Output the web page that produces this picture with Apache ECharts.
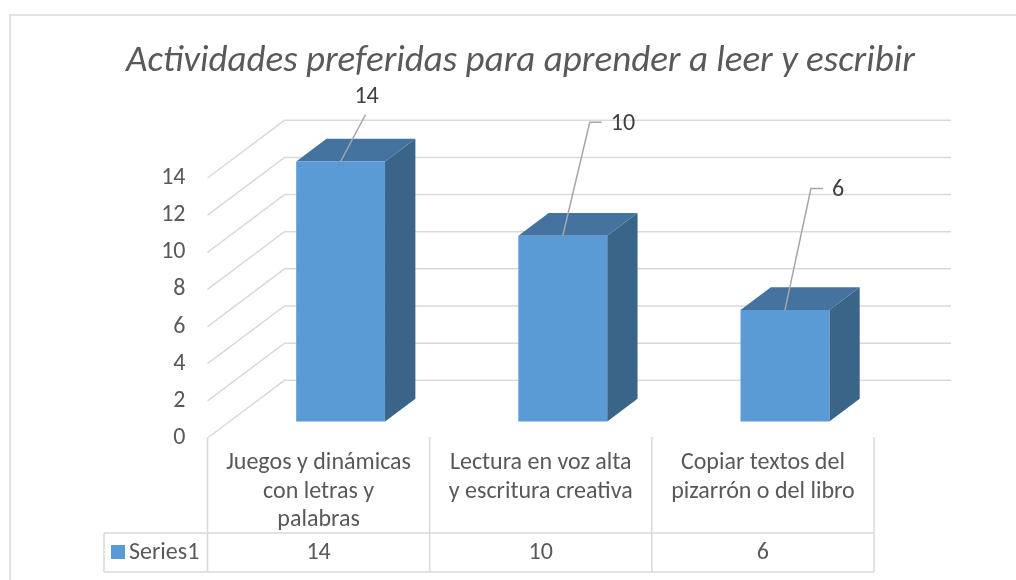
<!DOCTYPE html>
<html>
<head>
<meta charset="utf-8">
<script src="https://cdn.jsdelivr.net/npm/echarts@6/dist/echarts.min.js"></script>
<style>
  html, body { margin: 0; padding: 0; background: #fff; }
  #main { width: 1016px; height: 580px; }
</style>
</head>
<body>
<div id="main"></div>
<script>
// datos
const categories = [
  'Juegos y dinámicas\ncon letras y\npalabras',
  'Lectura en voz alta\ny escritura creativa',
  'Copiar textos del\npizarrón o del libro'
];
const values = [14, 10, 6];
const yTicks = [0, 2, 4, 6, 8, 10, 12, 14];
const seriesName = 'Series1';

const FONT = 'Carlito, "Open Sans", Lato, sans-serif';
const TEXT = '#595959';
const GRID = '#d9d9d9';
const FS = 24;

// profundidad de la pared del fondo y de las barras (px)
const WALL = [77, -57.7];
const BAR_FRONT = 0.286;   // fraccion de profundidad de la cara frontal
const BAR_BACK = 0.68;     // fraccion de la cara trasera
const BAR_W = 0.4;         // ancho relativo a la categoria
// posicion de las etiquetas respecto al borde superior de la barra
const labelOffsets = [[26, -64], [59, -112], [58, -120]];

const chart = echarts.init(document.getElementById('main'));

const option = {
  animation: false,
  title: {
    text: 'Actividades preferidas para aprender a leer y escribir',
    left: 121,
    top: 38,
    textStyle: { fontFamily: FONT, fontStyle: 'italic', fontWeight: 'normal', fontSize: 37, color: TEXT }
  },
  grid: { left: 207.5, right: 142, top: 178, bottom: 142 },
  xAxis: {
    type: 'category',
    data: categories,
    axisLine: { show: false },
    axisTick: { show: false },
    axisLabel: { margin: 11, fontFamily: FONT, fontSize: FS, color: TEXT, lineHeight: 28.5, interval: 0 }
  },
  yAxis: {
    type: 'value',
    min: 0,
    max: 14,
    interval: 2,
    axisLine: { show: false },
    axisTick: { show: false },
    splitLine: { show: false },
    axisLabel: { margin: 22, fontFamily: FONT, fontSize: FS, color: TEXT }
  },
  series: [
    // lineas de la cuadricula en 3D (pared izquierda + fondo)
    {
      type: 'custom',
      z: 1,
      silent: true,
      data: yTicks.map(v => [0, v]),
      renderItem: function (params, api) {
        const cs = params.coordSys;
        const y = api.coord([0, api.value(1)])[1];
        const x0 = cs.x;
        const x1 = cs.x + cs.width;
        return {
          type: 'polyline',
          shape: { points: [[x0, y], [x0 + WALL[0], y + WALL[1]], [x1 + WALL[0], y + WALL[1]]] },
          style: { stroke: GRID, lineWidth: 1.5, fill: null }
        };
      }
    },
    // barras 3D
    {
      type: 'custom',
      name: seriesName,
      z: 2,
      data: values.map((v, i) => [i, v]),
      renderItem: function (params, api) {
        const i = api.value(0);
        const top = api.coord([i, api.value(1)]);
        const base = api.coord([i, 0]);
        const band = api.size([1, 0])[0];
        const w = band * BAR_W;
        const fx = WALL[0] * BAR_FRONT, fy = WALL[1] * BAR_FRONT;
        const dx = WALL[0] * (BAR_BACK - BAR_FRONT), dy = WALL[1] * (BAR_BACK - BAR_FRONT);
        const xl = top[0] + fx - w / 2, xr = top[0] + fx + w / 2;
        const yt = top[1] + fy, yb = base[1] + fy;
        return {
          type: 'group',
          children: [
            {
              type: 'polygon',
              shape: { points: [[xr, yt], [xr + dx, yt + dy], [xr + dx, yb + dy], [xr, yb]] },
              style: { fill: '#3a6488' }
            },
            {
              type: 'polygon',
              shape: { points: [[xl, yt], [xr, yt], [xr + dx, yt + dy], [xl + dx, yt + dy]] },
              style: { fill: '#44739f' }
            },
            {
              type: 'rect',
              shape: { x: xl, y: yt, width: w, height: yb - yt },
              style: { fill: '#5b9bd5' }
            }
          ]
        };
      }
    },
    // etiquetas de datos con lineas guia
    {
      type: 'custom',
      z: 3,
      silent: true,
      data: values.map((v, i) => [i, v]),
      renderItem: function (params, api) {
        const i = api.value(0);
        const top = api.coord([i, api.value(1)]);
        const px = top[0] + WALL[0] * BAR_FRONT;
        const py = top[1] + WALL[1] * BAR_FRONT;
        const off = labelOffsets[i];
        const tx = px + off[0], ty = py + off[1];
        let pts, text;
        if (i === 0) {
          pts = [[px, py], [tx - 1, ty + 17]];
          text = { x: tx, y: ty, align: 'center' };
        } else {
          pts = [[px, py], [tx - 32, ty - 1.5], [tx - 20, ty - 1.5]];
          text = { x: tx - 11, y: ty, align: 'left' };
        }
        return {
          type: 'group',
          children: [
            { type: 'polyline', shape: { points: pts }, style: { stroke: '#a6a6a6', lineWidth: 1.5, fill: null } },
            {
              type: 'text',
              style: {
                x: text.x, y: text.y, text: String(api.value(1)),
                align: text.align, verticalAlign: 'middle',
                font: FS + 'px ' + FONT, fill: '#404040'
              }
            }
          ]
        };
      }
    },
    // tabla de datos
    {
      type: 'custom',
      z: 3,
      silent: true,
      data: values.map((v, i) => [i, v]),
      renderItem: function (params, api) {
        const cs = params.coordSys;
        const i = api.value(0);
        const c = api.coord([i, 0]);
        const band = api.size([1, 0])[0];
        const xl = c[0] - band / 2, xr = c[0] + band / 2;
        const yTop = cs.y + cs.height - 1;
        const yMid = 533, yBot = 572;
        const line = (pts) => ({ type: 'polyline', shape: { points: pts }, style: { stroke: GRID, lineWidth: 1.5, fill: null } });
        const children = [
          line([[xl, yTop], [xl, yBot]]),
          line([[xl, yMid], [xr, yMid]]),
          line([[xl, yBot], [xr, yBot]]),
          {
            type: 'text',
            style: { x: c[0], y: 553, text: String(api.value(1)), align: 'center', verticalAlign: 'middle', font: FS + 'px ' + FONT, fill: TEXT }
          }
        ];
        if (i === values.length - 1) children.push(line([[xr, yTop], [xr, yBot]]));
        if (i === 0) {
          const x0 = 104;
          children.push(line([[x0, yMid], [xl, yMid]]));
          children.push(line([[x0, yBot], [xl, yBot]]));
          children.push(line([[x0, yMid], [x0, yBot]]));
          children.push({ type: 'rect', shape: { x: 111, y: 545, width: 14, height: 14 }, style: { fill: '#5b9bd5' } });
          children.push({
            type: 'text',
            style: { x: 129, y: 553, text: seriesName, align: 'left', verticalAlign: 'middle', font: FS + 'px ' + FONT, fill: TEXT }
          });
        }
        return { type: 'group', children: children };
      }
    }
  ],
  graphic: [
    {
      type: 'rect',
      shape: { x: 10, y: 15, width: 1040, height: 600 },
      style: { fill: null, stroke: GRID, lineWidth: 1.5 },
      silent: true
    }
  ]
};

chart.setOption(option);
</script>
</body>
</html>
